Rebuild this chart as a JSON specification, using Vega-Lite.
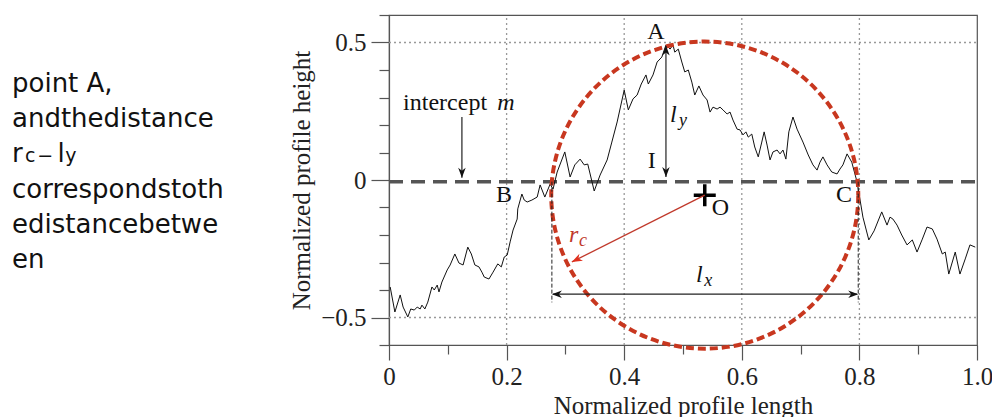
{
  "$schema": "https://vega.github.io/schema/vega-lite/v6.json",
  "background": "white",
  "padding": {"left": 12, "top": 13, "right": 0, "bottom": 0},
  "bounds": "flush",
  "spacing": 147,
  "config": {
    "view": {"stroke": "#555", "strokeWidth": 1.2},
    "font": "Liberation Serif",
    "axis": {"grid": false, "labelOverlap": false, "labelFlush": false}
  },
  "datasets": {
    "para": [
      {"t": "point A,", "line": 1, "pos": 0},
      {"t": "andthedistance", "line": 2, "pos": 0},
      {"t": "r", "line": 3, "pos": 0},
      {"t": "l", "line": 3, "pos": 0.198},
      {"t": "correspondstoth", "line": 4, "pos": 0},
      {"t": "edistancebetwe", "line": 5, "pos": 0},
      {"t": "en", "line": 6, "pos": 0}
    ],
    "parasub": [
      {"t": "c", "line": 3, "pos": 0.057},
      {"t": "−", "line": 3, "pos": 0.11},
      {"t": "y", "line": 3, "pos": 0.232}
    ],
    "profile": [
      {"x": 0.002, "y": -0.389}, {"x": 0.010, "y": -0.480}, {"x": 0.019, "y": -0.418}, {"x": 0.024, "y": -0.462},
      {"x": 0.032, "y": -0.498}, {"x": 0.037, "y": -0.469}, {"x": 0.043, "y": -0.473}, {"x": 0.048, "y": -0.462},
      {"x": 0.053, "y": -0.469}, {"x": 0.056, "y": -0.455}, {"x": 0.061, "y": -0.469}, {"x": 0.066, "y": -0.444},
      {"x": 0.073, "y": -0.389}, {"x": 0.077, "y": -0.400}, {"x": 0.082, "y": -0.382}, {"x": 0.085, "y": -0.407},
      {"x": 0.090, "y": -0.371}, {"x": 0.099, "y": -0.327}, {"x": 0.104, "y": -0.309}, {"x": 0.112, "y": -0.269},
      {"x": 0.119, "y": -0.302}, {"x": 0.126, "y": -0.309}, {"x": 0.134, "y": -0.244}, {"x": 0.140, "y": -0.269},
      {"x": 0.146, "y": -0.309}, {"x": 0.153, "y": -0.316}, {"x": 0.158, "y": -0.335}, {"x": 0.162, "y": -0.353},
      {"x": 0.170, "y": -0.360}, {"x": 0.177, "y": -0.335}, {"x": 0.185, "y": -0.305}, {"x": 0.191, "y": -0.316},
      {"x": 0.196, "y": -0.280}, {"x": 0.201, "y": -0.273}, {"x": 0.206, "y": -0.225}, {"x": 0.211, "y": -0.182},
      {"x": 0.218, "y": -0.142}, {"x": 0.219, "y": -0.105}, {"x": 0.226, "y": -0.051}, {"x": 0.230, "y": -0.073},
      {"x": 0.235, "y": -0.080}, {"x": 0.243, "y": -0.073}, {"x": 0.252, "y": -0.062}, {"x": 0.257, "y": -0.018},
      {"x": 0.265, "y": -0.062}, {"x": 0.274, "y": -0.015}, {"x": 0.279, "y": -0.033}, {"x": 0.286, "y": 0.029},
      {"x": 0.299, "y": 0.102}, {"x": 0.308, "y": 0.011}, {"x": 0.316, "y": 0.055}, {"x": 0.325, "y": 0.076},
      {"x": 0.332, "y": 0.055}, {"x": 0.338, "y": 0.058}, {"x": 0.349, "y": -0.040}, {"x": 0.359, "y": 0.018},
      {"x": 0.371, "y": 0.073}, {"x": 0.379, "y": 0.138}, {"x": 0.388, "y": 0.211}, {"x": 0.400, "y": 0.327},
      {"x": 0.407, "y": 0.255}, {"x": 0.415, "y": 0.295}, {"x": 0.422, "y": 0.309}, {"x": 0.429, "y": 0.349},
      {"x": 0.437, "y": 0.382}, {"x": 0.441, "y": 0.349}, {"x": 0.449, "y": 0.382}, {"x": 0.456, "y": 0.429},
      {"x": 0.464, "y": 0.447}, {"x": 0.471, "y": 0.491}, {"x": 0.478, "y": 0.476}, {"x": 0.483, "y": 0.491},
      {"x": 0.486, "y": 0.465}, {"x": 0.492, "y": 0.476}, {"x": 0.498, "y": 0.429}, {"x": 0.503, "y": 0.393},
      {"x": 0.509, "y": 0.400}, {"x": 0.515, "y": 0.356}, {"x": 0.520, "y": 0.309}, {"x": 0.527, "y": 0.342},
      {"x": 0.534, "y": 0.309}, {"x": 0.541, "y": 0.291}, {"x": 0.546, "y": 0.247}, {"x": 0.551, "y": 0.265},
      {"x": 0.558, "y": 0.258}, {"x": 0.563, "y": 0.265}, {"x": 0.568, "y": 0.255}, {"x": 0.575, "y": 0.240},
      {"x": 0.580, "y": 0.247}, {"x": 0.585, "y": 0.218}, {"x": 0.592, "y": 0.185}, {"x": 0.597, "y": 0.182},
      {"x": 0.602, "y": 0.164}, {"x": 0.607, "y": 0.175}, {"x": 0.611, "y": 0.156}, {"x": 0.617, "y": 0.167},
      {"x": 0.622, "y": 0.120}, {"x": 0.628, "y": 0.084}, {"x": 0.634, "y": 0.138}, {"x": 0.638, "y": 0.175},
      {"x": 0.643, "y": 0.127}, {"x": 0.648, "y": 0.073}, {"x": 0.653, "y": 0.102}, {"x": 0.660, "y": 0.109},
      {"x": 0.665, "y": 0.095}, {"x": 0.670, "y": 0.109}, {"x": 0.675, "y": 0.076}, {"x": 0.680, "y": 0.175},
      {"x": 0.687, "y": 0.229}, {"x": 0.694, "y": 0.185}, {"x": 0.704, "y": 0.138}, {"x": 0.713, "y": 0.091},
      {"x": 0.721, "y": 0.055}, {"x": 0.728, "y": 0.036}, {"x": 0.733, "y": 0.065}, {"x": 0.738, "y": 0.084},
      {"x": 0.745, "y": 0.055}, {"x": 0.753, "y": 0.029}, {"x": 0.762, "y": 0.022}, {"x": 0.767, "y": 0.040},
      {"x": 0.772, "y": 0.055}, {"x": 0.779, "y": 0.095}, {"x": 0.787, "y": 0.065}, {"x": 0.796, "y": -0.007},
      {"x": 0.806, "y": -0.135}, {"x": 0.816, "y": -0.218}, {"x": 0.825, "y": -0.185}, {"x": 0.838, "y": -0.116},
      {"x": 0.847, "y": -0.164}, {"x": 0.852, "y": -0.135}, {"x": 0.857, "y": -0.142}, {"x": 0.864, "y": -0.164},
      {"x": 0.872, "y": -0.200}, {"x": 0.881, "y": -0.236}, {"x": 0.890, "y": -0.218}, {"x": 0.898, "y": -0.262},
      {"x": 0.907, "y": -0.215}, {"x": 0.915, "y": -0.171}, {"x": 0.924, "y": -0.178}, {"x": 0.932, "y": -0.215},
      {"x": 0.941, "y": -0.269}, {"x": 0.946, "y": -0.262}, {"x": 0.952, "y": -0.342}, {"x": 0.963, "y": -0.262},
      {"x": 0.971, "y": -0.342}, {"x": 0.980, "y": -0.287}, {"x": 0.988, "y": -0.236}, {"x": 0.997, "y": -0.244}
    ],
    "gridx": [
      {"x": 0.2, "y": -0.6, "y2": 0.6}, {"x": 0.4, "y": -0.6, "y2": 0.6},
      {"x": 0.6, "y": -0.6, "y2": 0.6}, {"x": 0.8, "y": -0.6, "y2": 0.6}
    ],
    "gridy": [{"x": 0, "x2": 1, "y": 0.5}, {"x": 0, "x2": 1, "y": -0.5}],
    "mean": [{"x": 0, "x2": 1, "y": -0.006}],
    "centre": [{"x": 0.537, "y": -0.055}],
    "extents": [{"x": 0.277, "y": -0.006, "y2": -0.445}, {"x": 0.798, "y": -0.006, "y2": -0.445}],
    "arrows": [
      {"x": 0.471, "y": 0.011, "x2": 0.471, "y2": 0.487},
      {"x": 0.124, "y": 0.229, "x2": 0.124, "y2": 0.008},
      {"x": 0.279, "y": -0.415, "x2": 0.796, "y2": -0.415}
    ],
    "headsUp": [{"x": 0.471, "y": 0.489}],
    "headsDown": [{"x": 0.471, "y": 0.011}, {"x": 0.124, "y": 0.008}],
    "headsLeft": [{"x": 0.277, "y": -0.415}],
    "headsRight": [{"x": 0.798, "y": -0.415}],
    "radius": [{"x": 0.537, "y": -0.055, "x2": 0.311, "y2": -0.298}],
    "radiusHead": [{"x": 0.311, "y": -0.298}],
    "labels": [
      {"label": "A", "x": 0.439, "y": 0.513},
      {"label": "B", "x": 0.182, "y": -0.080},
      {"label": "C", "x": 0.760, "y": -0.080},
      {"label": "I", "x": 0.440, "y": 0.044},
      {"label": "O", "x": 0.549, "y": -0.127},
      {"label": "intercept", "x": 0.024, "y": 0.255}
    ],
    "italics": [
      {"label": "m", "x": 0.184, "y": 0.255},
      {"label": "l", "x": 0.478, "y": 0.211},
      {"label": "l", "x": 0.522, "y": -0.371}
    ],
    "italicSubs": [
      {"label": "y", "x": 0.493, "y": 0.196},
      {"label": "x", "x": 0.536, "y": -0.385}
    ],
    "redItalic": [{"label": "r", "x": 0.306, "y": -0.225}],
    "redSub": [{"label": "c", "x": 0.323, "y": -0.240}]
  },
  "hconcat": [
    {
      "width": 230,
      "height": 330,
      "view": {"stroke": null},
      "layer": [
        {
          "data": {"name": "para"},
          "mark": {"type": "text", "font": "DejaVu Sans", "fontSize": 26, "align": "left", "baseline": "alphabetic", "color": "#111"},
          "encoding": {
            "x": {"field": "pos", "type": "quantitative", "scale": {"domain": [0, 1], "nice": false, "zero": false}, "axis": null},
            "y": {"field": "line", "type": "quantitative", "scale": {"domain": [-1.19, 8.19], "reverse": true, "nice": false, "zero": false}, "axis": null},
            "text": {"field": "t"}
          }
        },
        {
          "data": {"name": "parasub"},
          "mark": {"type": "text", "font": "DejaVu Sans", "fontSize": 19, "align": "left", "baseline": "alphabetic", "color": "#111"},
          "encoding": {
            "x": {"field": "pos", "type": "quantitative", "axis": null},
            "y": {"field": "line", "type": "quantitative", "axis": null},
            "text": {"field": "t"}
          }
        }
      ]
    },
    {
      "width": 588,
      "height": 330,
      "encoding": {
        "x": {
          "field": "x", "type": "quantitative",
          "scale": {"domain": [0, 1], "nice": false, "zero": false},
          "axis": {
            "title": "Normalized profile length",
            "values": [0, 0.1, 0.2, 0.3, 0.4, 0.5, 0.6, 0.7, 0.8, 0.9, 1.0],
            "grid": false,
            "domainColor": "#555", "domainWidth": 1.2,
            "tickColor": "#555", "tickWidth": 1.2,
            "tickSize": {"condition": {"test": "round(datum.value*10) % 2 == 0", "value": 15}, "value": 9},
            "labelExpr": "round(datum.value*10) % 2 == 0 ? (datum.value == 0 ? '0' : format(datum.value, '.1f')) : ''",
            "labelFontSize": {"condition": {"test": "round(datum.value*10) % 2 == 0", "value": 25}, "value": 1},
            "labelFont": "Liberation Serif", "labelColor": "#222",
            "labelPadding": 4, "labelFlush": false, "labelOverlap": false,
            "titleFont": "Liberation Serif", "titleFontSize": 25, "titleFontWeight": "normal", "titleColor": "#222",
            "titlePadding": 4
          }
        },
        "y": {
          "field": "y", "type": "quantitative",
          "scale": {"domain": [-0.6, 0.6], "nice": false, "zero": false},
          "axis": {
            "title": "Normalized profile height",
            "values": [-0.6, -0.5, -0.4, -0.3, -0.2, -0.1, 0, 0.1, 0.2, 0.3, 0.4, 0.5, 0.6],
            "grid": false,
            "domainColor": "#555", "domainWidth": 1.2,
            "tickColor": "#555", "tickWidth": 1.2,
            "tickSize": {"condition": {"test": "round(datum.value*10) % 5 == 0", "value": 18}, "value": 10},
            "labelExpr": "round(datum.value*10) == 0 ? '0' : (round(datum.value*10) % 5 == 0 ? format(datum.value, '.1f') : '')",
            "labelFontSize": {"condition": {"test": "round(datum.value*10) % 5 == 0", "value": 25}, "value": 1},
            "labelFont": "Liberation Serif", "labelColor": "#222",
            "labelPadding": 5, "labelFlush": false, "labelOverlap": false,
            "titleFont": "Liberation Serif", "titleFontSize": 25, "titleFontWeight": "normal", "titleColor": "#222",
            "titlePadding": 6
          }
        }
      },
      "layer": [
        {
          "data": {"name": "gridx"},
          "mark": {"type": "rule", "color": "#999", "strokeWidth": 1.3, "strokeDash": [2, 3]},
          "encoding": {"y2": {"field": "y2"}}
        },
        {
          "data": {"name": "gridy"},
          "mark": {"type": "rule", "color": "#999", "strokeWidth": 1.3, "strokeDash": [2, 3]},
          "encoding": {"x2": {"field": "x2"}}
        },
        {
          "data": {"name": "mean"},
          "mark": {"type": "rule", "color": "#555", "strokeWidth": 3.5, "strokeDash": [14, 8]},
          "encoding": {"x2": {"field": "x2"}}
        },
        {
          "data": {"name": "profile"},
          "mark": {"type": "line", "color": "#111", "strokeWidth": 1}
        },
        {
          "data": {"name": "centre"},
          "mark": {"type": "point", "shape": "circle", "size": 94249, "filled": false, "stroke": "#c8371f", "strokeWidth": 4, "strokeDash": [8, 4], "opacity": 1}
        },
        {
          "data": {"name": "centre"},
          "mark": {"type": "point", "shape": "M-1,0L1,0M0,-1L0,1", "size": 484, "filled": false, "stroke": "#000", "strokeWidth": 3.5, "opacity": 1}
        },
        {
          "data": {"name": "extents"},
          "mark": {"type": "rule", "color": "#222", "strokeWidth": 1, "strokeDash": [4, 2]},
          "encoding": {"y2": {"field": "y2"}}
        },
        {
          "data": {"name": "arrows"},
          "mark": {"type": "rule", "color": "#222", "strokeWidth": 1.2},
          "encoding": {"x2": {"field": "x2"}, "y2": {"field": "y2"}}
        },
        {
          "data": {"name": "headsUp"},
          "mark": {"type": "point", "shape": "M0,0L-2,-0.75L-1.4,0L-2,0.75Z", "size": 100, "filled": true, "color": "#111", "opacity": 1, "angle": 270}
        },
        {
          "data": {"name": "headsDown"},
          "mark": {"type": "point", "shape": "M0,0L-2,-0.75L-1.4,0L-2,0.75Z", "size": 100, "filled": true, "color": "#111", "opacity": 1, "angle": 90}
        },
        {
          "data": {"name": "headsLeft"},
          "mark": {"type": "point", "shape": "M0,0L-2,-0.75L-1.4,0L-2,0.75Z", "size": 100, "filled": true, "color": "#111", "opacity": 1, "angle": 180}
        },
        {
          "data": {"name": "headsRight"},
          "mark": {"type": "point", "shape": "M0,0L-2,-0.75L-1.4,0L-2,0.75Z", "size": 100, "filled": true, "color": "#111", "opacity": 1, "angle": 0}
        },
        {
          "data": {"name": "radius"},
          "mark": {"type": "rule", "color": "#c0392b", "strokeWidth": 1.3},
          "encoding": {"x2": {"field": "x2"}, "y2": {"field": "y2"}}
        },
        {
          "data": {"name": "radiusHead"},
          "mark": {"type": "point", "shape": "M0,0L-2,-0.75L-1.4,0L-2,0.75Z", "size": 110, "filled": true, "color": "#e0301e", "opacity": 1, "angle": 153}
        },
        {
          "data": {"name": "labels"},
          "mark": {"type": "text", "font": "Liberation Serif", "fontSize": 24, "align": "left", "baseline": "alphabetic", "color": "#111"},
          "encoding": {"text": {"field": "label"}}
        },
        {
          "data": {"name": "italics"},
          "mark": {"type": "text", "font": "Liberation Serif", "fontSize": 24, "fontStyle": "italic", "align": "left", "baseline": "alphabetic", "color": "#111"},
          "encoding": {"text": {"field": "label"}}
        },
        {
          "data": {"name": "italicSubs"},
          "mark": {"type": "text", "font": "Liberation Serif", "fontSize": 18, "fontStyle": "italic", "align": "left", "baseline": "alphabetic", "color": "#111"},
          "encoding": {"text": {"field": "label"}}
        },
        {
          "data": {"name": "redItalic"},
          "mark": {"type": "text", "font": "Liberation Serif", "fontSize": 24, "fontStyle": "italic", "align": "left", "baseline": "alphabetic", "color": "#c0392b"},
          "encoding": {"text": {"field": "label"}}
        },
        {
          "data": {"name": "redSub"},
          "mark": {"type": "text", "font": "Liberation Serif", "fontSize": 18, "fontStyle": "italic", "align": "left", "baseline": "alphabetic", "color": "#c0392b"},
          "encoding": {"text": {"field": "label"}}
        }
      ]
    }
  ]
}
